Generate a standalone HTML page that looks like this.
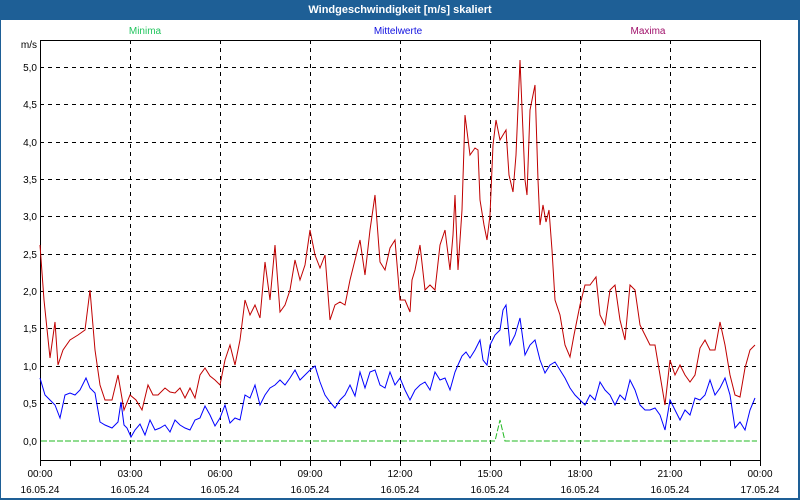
<!DOCTYPE html>
<html><head><meta charset="utf-8"><style>
html,body{margin:0;padding:0;background:#fff}
svg{display:block}
text{font-family:"Liberation Sans",sans-serif;font-size:10px}
</style></head><body>
<svg width="800" height="500" xmlns="http://www.w3.org/2000/svg">
<rect x="0" y="0" width="800" height="500" fill="#1e5f96"/>
<rect x="1" y="20" width="797" height="478" fill="#fff"/>
<text x="400" y="13" fill="#fff" font-weight="bold" text-anchor="middle" style="font-size:11px">Windgeschwindigkeit [m/s] skaliert</text>
<text x="145" y="34" fill="#22c55e" text-anchor="middle">Minima</text>
<text x="398" y="34" fill="#1010e0" text-anchor="middle">Mittelwerte</text>
<text x="648" y="34" fill="#a0106a" text-anchor="middle">Maxima</text>
<g stroke="#000" stroke-width="1" stroke-dasharray="4,4" fill="none">
<path d="M40 67.5H760M40 104.5H760M40 142.5H760M40 179.5H760M40 216.5H760M40 254.5H760M40 291.5H760M40 328.5H760M40 366.5H760M40 403.5H760"/>
<path d="M130.5 40V460M220.5 40V460M310.5 40V460M400.5 40V460M490.5 40V460M580.5 40V460M670.5 40V460"/>
</g>
<path d="M40.5 40V460.5H760.5V40.5H40.5" stroke="#000" fill="none"/>
<g stroke="#000"><path d="M70.5 460V466M100.5 460V466M130.5 460V466M160.5 460V466M190.5 460V466M220.5 460V466M250.5 460V466M280.5 460V466M310.5 460V466M340.5 460V466M370.5 460V466M400.5 460V466M430.5 460V466M460.5 460V466M490.5 460V466M520.5 460V466M550.5 460V466M580.5 460V466M610.5 460V466M640.5 460V466M670.5 460V466M700.5 460V466M730.5 460V466M760.5 460V466M40.5 460V466"/></g>
<g text-anchor="end" fill="#000">
<text x="37" y="48">m/s</text>
<text x="37" y="71">5,0</text><text x="37" y="108">4,5</text><text x="37" y="146">4,0</text><text x="37" y="183">3,5</text><text x="37" y="220">3,0</text><text x="37" y="258">2,5</text><text x="37" y="295">2,0</text><text x="37" y="332">1,5</text><text x="37" y="370">1,0</text><text x="37" y="407">0,5</text><text x="37" y="445">0,0</text>
</g>
<g text-anchor="middle" fill="#000">
<text x="40" y="477">00:00</text><text x="130" y="477">03:00</text><text x="220" y="477">06:00</text><text x="310" y="477">09:00</text><text x="400" y="477">12:00</text><text x="490" y="477">15:00</text><text x="580" y="477">18:00</text><text x="670" y="477">21:00</text><text x="760" y="477">00:00</text>
<text x="40" y="493">16.05.24</text><text x="130" y="493">16.05.24</text><text x="220" y="493">16.05.24</text><text x="310" y="493">16.05.24</text><text x="400" y="493">16.05.24</text><text x="490" y="493">16.05.24</text><text x="580" y="493">16.05.24</text><text x="670" y="493">16.05.24</text><text x="760" y="493">17.05.24</text>
</g>
<polyline fill="none" stroke="#22b822" stroke-width="1" points="41,441 495,441 500,420 505,441 757,441" stroke-dasharray="6,2"/>
<polyline fill="none" stroke="#c00000" stroke-width="1" points="40,245 44,300 50,358 55,322 58,365 63,350 70,340 78,335 85,330 90,290 95,350 100,385 105,400 112,400 118,375 124,410 130,395 136,400 142,410 148,385 153,395 158,395 165,388 170,392 175,393 180,388 185,398 190,388 195,398 200,375 205,368 210,376 215,380 220,385 225,360 230,345 235,365 240,340 245,300 250,315 255,305 260,318 265,262 270,300 275,245 280,312 285,305 290,290 295,260 300,280 305,265 310,230 315,255 320,268 325,255 330,320 335,305 340,302 345,305 350,280 355,260 360,240 365,275 370,230 375,195 380,262 385,270 390,248 395,240 400,300 405,300 410,312 412,280 415,270 420,245 425,290 430,285 435,290 440,245 445,230 450,270 453,235 455,195 458,270 462,210 465,115 470,155 475,148 478,150 480,200 484,225 487,240 490,215 493,145 496,120 500,140 503,135 506,130 509,175 513,192 516,155 520,60 525,180 527,195 530,110 535,85 538,180 540,225 543,205 546,222 549,210 552,250 555,300 560,315 565,345 570,357 574,335 577,320 580,305 585,285 590,285 596,277 600,315 605,325 610,290 615,285 620,320 625,340 630,285 635,290 640,325 645,335 650,345 655,345 660,375 665,405 670,360 675,375 680,365 685,375 690,382 695,375 700,348 705,340 710,350 715,350 720,322 725,345 730,375 735,395 740,397 745,368 750,350 755,345"/>
<polyline fill="none" stroke="#0000ff" stroke-width="1" points="40,378 45,395 50,400 55,405 60,418 65,395 70,393 75,395 80,390 86,378 90,388 95,393 100,422 105,425 112,428 118,422 121,402 124,425 127,428 131,437 135,430 140,424 145,435 150,420 155,430 160,428 165,425 170,432 175,420 180,425 185,428 190,430 195,420 200,418 205,406 210,415 215,426 220,418 225,405 230,423 235,418 240,420 245,395 250,398 255,385 260,405 265,395 270,388 275,385 280,380 285,385 290,378 295,370 300,380 305,375 310,370 315,366 320,382 325,395 330,402 335,408 340,400 345,395 350,385 355,396 360,372 365,388 370,372 375,370 380,385 385,388 390,372 395,385 400,378 405,390 410,400 415,390 420,385 425,382 430,390 435,372 440,380 445,378 450,390 455,372 458,365 462,356 466,352 470,358 475,350 480,340 483,360 487,365 490,345 495,335 500,330 503,310 506,305 510,345 515,335 520,318 525,355 530,345 535,340 540,360 545,373 550,365 555,362 560,370 565,378 570,388 575,395 580,400 585,405 590,395 595,400 600,382 605,390 610,395 615,405 620,395 625,400 630,380 635,390 640,405 645,410 650,410 655,408 660,415 665,430 670,400 675,410 680,420 685,410 690,415 695,398 700,400 705,395 710,380 715,395 720,388 725,378 730,395 735,428 740,422 745,430 750,410 755,398"/>
</svg>
</body></html>
